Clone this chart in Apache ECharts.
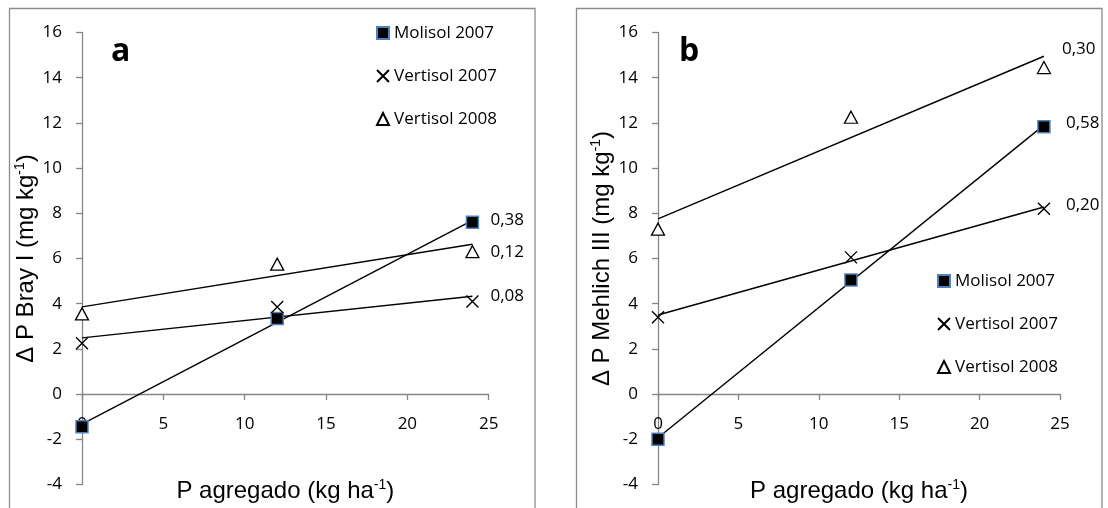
<!DOCTYPE html>
<html>
<head>
<meta charset="utf-8">
<script src="https://cdn.jsdelivr.net/npm/echarts@6/dist/echarts.min.js"></script>
<style>
html,body{margin:0;padding:0;background:#fff;}
#c{width:1108px;height:508px;}
</style>
</head>
<body>
<div id="c"></div>
<script>
// ---- data ----
var xLevels = [0, 12, 24];
var seriesNames = ['Molisol 2007', 'Vertisol 2007', 'Vertisol 2008'];

// Panel a: Δ P Bray I
var brayMolisol2007 = [-1.45, 3.35, 7.6];
var brayVertisol2007 = [2.25, 3.85, 4.1];
var brayVertisol2008 = [3.55, 5.75, 6.3];
// trend line values at x = 0 and x = 24
var brayTrendMolisol2007 = [-1.33, 7.69];
var brayTrendVertisol2007 = [2.49, 4.33];
var brayTrendVertisol2008 = [3.86, 6.63];
var braySlopeLabels = ['0,38', '0,08', '0,12'];

// Panel b: Δ P Mehlich III
var mehMolisol2007 = [-2.0, 5.05, 11.83];
var mehVertisol2007 = [3.4, 6.05, 8.2];
var mehVertisol2008 = [7.3, 12.25, 14.45];
var mehTrendMolisol2007 = [-1.93, 11.9];
var mehTrendVertisol2007 = [3.5, 8.28];
var mehTrendVertisol2008 = [7.75, 14.95];
var mehSlopeLabels = ['0,58', '0,20', '0,30'];

var trendX = [0, 24];
var yTicks = {min: -4, max: 16, interval: 2};
var xTicks = {min: 0, max: 25, interval: 5};

// ---- styles / layout ----
var tickFont = 'Open Sans';
var axisGray = '#868686';
var gridTop = 32.5, gridHeight = 452;
// x axis drawn where y = 0 (moved up from the grid bottom)
var xAxisOffset = -(0 - yTicks.min) / (yTicks.max - yTicks.min) * gridHeight;

var symbolDefs = [
  {symbol: 'rect', size: 12, style: {color: '#000', borderColor: '#4f81bd', borderWidth: 1.5, opacity: 1}},
  {symbol: 'path://M0,0L10,10M0,10L10,0', size: 12, style: {color: 'transparent', borderColor: '#000', borderWidth: 1.4, opacity: 1}},
  {symbol: 'triangle', size: [13, 12], style: {color: '#fff', borderColor: '#000', borderWidth: 1.3, opacity: 1}}
];

function pairs(xs, ys) { return xs.map(function (x, i) { return [x, ys[i]]; }); }

function scatterSeries(idx, name, ys) {
  var d = symbolDefs[seriesNames.indexOf(name)];
  return {
    type: 'scatter', name: name, xAxisIndex: idx, yAxisIndex: idx,
    symbol: d.symbol, symbolSize: d.size, itemStyle: d.style,
    data: pairs(xLevels, ys), z: 5
  };
}
function trendSeries(idx, ys, text, offset) {
  var pts = pairs(trendX, ys);
  return {
    type: 'line', xAxisIndex: idx, yAxisIndex: idx, silent: true,
    showSymbol: true, symbol: 'circle', symbolSize: 0,
    lineStyle: {color: '#000', width: 1.4}, itemStyle: {color: '#000'},
    data: [
      {value: pts[0]},
      {value: pts[1], label: {show: true, position: 'right', distance: 18, offset: offset || [0, 0],
        formatter: text, color: '#000', fontFamily: tickFont, fontSize: 17}}
    ], z: 3, animation: false
  };
}

var nameRich = {
  n: {fontFamily: 'Liberation Sans', fontSize: 24, color: '#000', lineHeight: 27},
  s: {fontFamily: 'Liberation Sans', fontSize: 14, color: '#000', lineHeight: 14, verticalAlign: 'top'}
};

function xAxisDef(idx) {
  return {
    type: 'value', gridIndex: idx, min: xTicks.min, max: xTicks.max, interval: xTicks.interval,
    position: 'bottom', offset: xAxisOffset,
    axisLine: {onZero: false, lineStyle: {color: axisGray, width: 1.3}},
    axisTick: {show: true, length: 6, lineStyle: {color: axisGray, width: 1.3}},
    axisLabel: {color: '#000', fontFamily: tickFont, fontSize: 17, margin: 22},
    splitLine: {show: false},
    name: '{n|P agregado (kg ha}{s|-1}{n|)}',
    nameLocation: 'middle', nameGap: 84,
    nameTextStyle: {rich: nameRich}
  };
}
function yAxisDef(idx, title) {
  return {
    type: 'value', gridIndex: idx, min: yTicks.min, max: yTicks.max, interval: yTicks.interval,
    axisLine: {show: true, onZero: false, lineStyle: {color: axisGray, width: 1.3}},
    axisTick: {show: true, length: 6, lineStyle: {color: axisGray, width: 1.3}},
    axisLabel: {color: '#000', fontFamily: tickFont, fontSize: 17, margin: 20},
    splitLine: {show: false},
    name: '{n|' + title + '}{s|-1}{n|)}',
    nameLocation: 'middle', nameGap: 38,
    nameTextStyle: {rich: nameRich}
  };
}
function legendDef(left, top) {
  return {
    orient: 'vertical', left: left, top: top, itemWidth: 12, itemHeight: 12, itemGap: 23,
    selectedMode: false, padding: 0,
    textStyle: {fontFamily: tickFont, fontSize: 17, color: '#000', lineHeight: 20},
    data: seriesNames.map(function (n) { return {name: n}; })
  };
}

var chart = echarts.init(document.getElementById('c'), null, {renderer: 'canvas'});
chart.setOption({
  animation: false,
  backgroundColor: '#fff',
  grid: [
    {left: 82, top: gridTop, width: 406.7, height: gridHeight, containLabel: false, outerBoundsMode: 'none'},
    {left: 658, top: gridTop, width: 402, height: gridHeight, containLabel: false, outerBoundsMode: 'none'}
  ],
  xAxis: [xAxisDef(0), xAxisDef(1)],
  yAxis: [yAxisDef(0, '\u0394 P Bray I (mg kg'), yAxisDef(1, '\u0394 P Mehlich III (mg kg')],
  legend: [legendDef(376, 23), legendDef(937, 271)],
  graphic: [
    {type: 'rect', shape: {x: 9.5, y: 8.5, width: 525.5, height: 520}, style: {fill: 'none', stroke: '#8c8c8c', lineWidth: 1.3}, silent: true},
    {type: 'rect', shape: {x: 576.5, y: 8.5, width: 525.5, height: 520}, style: {fill: 'none', stroke: '#8c8c8c', lineWidth: 1.3}, silent: true},
    {type: 'text', left: 111, top: 36, style: {text: 'a', font: 'bold 32px "Open Sans"', fill: '#000'}},
    {type: 'text', left: 679, top: 36, style: {text: 'b', font: 'bold 32px "Open Sans"', fill: '#000'}}
  ],
  series: [
    trendSeries(0, brayTrendMolisol2007, braySlopeLabels[0]),
    trendSeries(0, brayTrendVertisol2007, braySlopeLabels[1]),
    trendSeries(0, brayTrendVertisol2008, braySlopeLabels[2], [0, 8]),
    scatterSeries(0, 'Molisol 2007', brayMolisol2007),
    scatterSeries(0, 'Vertisol 2007', brayVertisol2007),
    scatterSeries(0, 'Vertisol 2008', brayVertisol2008),
    trendSeries(1, mehTrendMolisol2007, mehSlopeLabels[0], [4, -2]),
    trendSeries(1, mehTrendVertisol2007, mehSlopeLabels[1], [4, -2]),
    trendSeries(1, mehTrendVertisol2008, mehSlopeLabels[2], [0, -7]),
    scatterSeries(1, 'Molisol 2007', mehMolisol2007),
    scatterSeries(1, 'Vertisol 2007', mehVertisol2007),
    scatterSeries(1, 'Vertisol 2008', mehVertisol2008)
  ]
});
</script>
</body>
</html>
